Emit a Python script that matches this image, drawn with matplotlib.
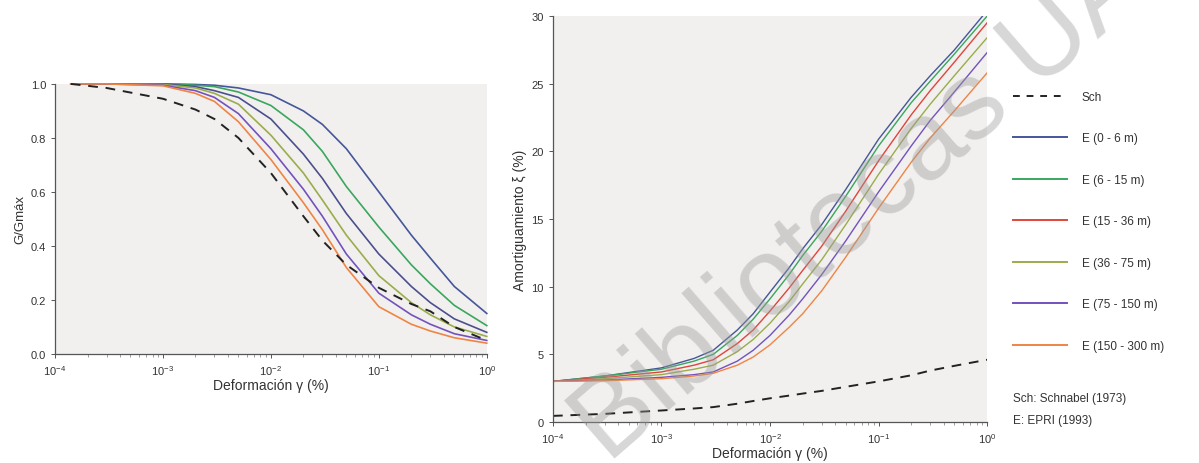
import matplotlib
matplotlib.use('Agg')
import matplotlib.pyplot as plt
from matplotlib.lines import Line2D

plt.rcParams['font.family'] = ['Liberation Sans', 'DejaVu Sans']
plt.rcParams['mathtext.fontset'] = 'custom'
plt.rcParams['mathtext.rm'] = 'Liberation Sans'

# deformación (%)
strain_g = [1.4e-4, 3e-4, 1e-3, 2e-3, 3e-3, 5e-3, 1e-2, 2e-2, 3e-2, 5e-2, 1e-1, 2e-1, 3e-1, 5e-1, 1.0]
strain_d = [1e-4, 3e-4, 1e-3, 2e-3, 3e-3, 5e-3, 7e-3, 1e-2, 1.5e-2, 2e-2, 3e-2, 5e-2, 1e-1, 2e-1, 3e-1, 5e-1, 1.0]

labels = ['E (0 - 6 m)', 'E (6 - 15 m)', 'E (15 - 36 m)', 'E (36 - 75 m)', 'E (75 - 150 m)', 'E (150 - 300 m)']

# G/Gmax
g_sch = [1.0, 0.985, 0.945, 0.905, 0.87, 0.80, 0.67, 0.51, 0.42, 0.33, 0.245, 0.185, 0.158, 0.10, 0.05]
g_e06 = [1.0, 1.0, 1.0, 0.998, 0.995, 0.985, 0.96, 0.90, 0.85, 0.76, 0.60, 0.44, 0.355, 0.25, 0.15]
g_e615 = [1.0, 1.0, 1.0, 0.995, 0.99, 0.97, 0.92, 0.83, 0.75, 0.62, 0.47, 0.33, 0.26, 0.18, 0.105]
g_e1536 = [1.0, 1.0, 1.0, 0.99, 0.975, 0.95, 0.87, 0.74, 0.65, 0.52, 0.37, 0.25, 0.19, 0.13, 0.08]
g_e3675 = [1.0, 1.0, 0.998, 0.985, 0.965, 0.925, 0.81, 0.67, 0.57, 0.44, 0.29, 0.19, 0.145, 0.10, 0.065]
g_e75150 = [1.0, 1.0, 0.995, 0.975, 0.95, 0.89, 0.76, 0.61, 0.51, 0.37, 0.225, 0.145, 0.11, 0.075, 0.05]
g_e150300 = [1.0, 1.0, 0.993, 0.965, 0.935, 0.86, 0.72, 0.56, 0.46, 0.32, 0.175, 0.11, 0.085, 0.06, 0.04]

# amortiguamiento (%)
d_sch = [0.45, 0.6, 0.85, 1.0, 1.1, 1.35, 1.55, 1.75, 1.95, 2.1, 2.3, 2.6, 3.0, 3.45, 3.8, 4.15, 4.6]
d_e06 = [3.0, 3.4, 4.0, 4.7, 5.3, 6.8, 8.0, 9.6, 11.4, 12.8, 14.6, 17.2, 20.9, 24.0, 25.6, 27.5, 30.4]
d_e615 = [3.0, 3.4, 3.9, 4.5, 5.0, 6.4, 7.6, 9.1, 10.9, 12.3, 14.1, 16.7, 20.4, 23.6, 25.2, 27.2, 30.0]
d_e1536 = [3.0, 3.3, 3.7, 4.2, 4.6, 5.8, 6.8, 8.2, 9.9, 11.2, 13.0, 15.6, 19.3, 22.7, 24.5, 26.6, 29.5]
d_e3675 = [3.0, 3.2, 3.5, 3.9, 4.2, 5.2, 6.1, 7.3, 8.9, 10.2, 12.0, 14.6, 18.3, 21.7, 23.5, 25.6, 28.4]
d_e75150 = [3.0, 3.1, 3.3, 3.5, 3.7, 4.5, 5.3, 6.4, 7.9, 9.1, 10.9, 13.4, 17.0, 20.4, 22.3, 24.4, 27.3]
d_e150300 = [3.0, 3.05, 3.2, 3.4, 3.6, 4.2, 4.8, 5.7, 7.0, 8.0, 9.7, 12.2, 15.8, 19.2, 21.0, 23.0, 25.8]

colors = ['#45569a', '#3aa65e', '#e0453c', '#9cab4c', '#7352bd', '#ef8445']
colors_g = ['#45569a', '#3aa65e', '#4c4f8e', '#9cab4c', '#7352bd', '#ef8445']

TXT = '#333333'
BG = '#f1f0ee'


def style_axis(ax):
    ax.set_facecolor(BG)
    ax.set_xscale('log')
    ax.set_xlim(1e-4, 1)
    for s in ('top', 'right'):
        ax.spines[s].set_visible(False)
    for s in ('left', 'bottom'):
        ax.spines[s].set_color('#555555')
        ax.spines[s].set_linewidth(0.9)
    ax.tick_params(which='major', length=3, width=0.7, colors='#555555', labelcolor=TXT, labelsize=8)
    ax.tick_params(which='minor', length=2, width=0.5, colors='#777777')
    ax.set_xlabel('Deformación γ (%)', fontsize=10, color=TXT, labelpad=1)


fig = plt.figure(figsize=(11.99, 4.64), dpi=100)

ax1 = fig.add_axes([0.0459, 0.235, 0.3601, 0.582])
style_axis(ax1)
ax1.set_ylim(0, 1.0)
ax1.set_yticks([0, 0.2, 0.4, 0.6, 0.8, 1.0])
ax1.set_yticklabels(['0.0', '0.2', '0.4', '0.6', '0.8', '1.0'])
ax1.set_ylabel('G/Gmáx', fontsize=9.5, color=TXT, labelpad=3)
g_series = [g_e06, g_e615, g_e1536, g_e3675, g_e75150, g_e150300]
for vals, c in zip(g_series, colors_g):
    ax1.plot(strain_g, vals, color=c, lw=1.2, clip_on=False)
ax1.plot(strain_g, g_sch, color='#222222', lw=1.4, ls=(0, (5, 4)), clip_on=False)

ax2 = fig.add_axes([0.4612, 0.0884, 0.3620, 0.8746])
style_axis(ax2)
ax2.set_ylim(0, 30)
ax2.set_yticks([0, 5, 10, 15, 20, 25, 30])
ax2.set_ylabel('Amortiguamiento ξ (%)', fontsize=10, color=TXT, labelpad=3)
d_series = [d_e06, d_e615, d_e1536, d_e3675, d_e75150, d_e150300]
handles = [Line2D([], [], color='#222222', lw=1.4, ls=(0, (3.5, 3.5)))]
for vals, c in zip(d_series, colors):
    ax2.plot(strain_d, vals, color=c, lw=1.0)
    handles.append(Line2D([], [], color=c, lw=1.4))
ax2.plot(strain_d, d_sch, color='#222222', lw=1.4, ls=(0, (5, 4)))

fig.legend(handles, ['Sch'] + labels, loc='upper left', bbox_to_anchor=(0.845, 0.802),
           frameon=False, fontsize=8.5, labelcolor=TXT, handlelength=4.6,
           handletextpad=1.2, labelspacing=2.5, borderpad=0, borderaxespad=0)

fig.text(0.845, 1 - 399 / 464, 'Sch: Schnabel (1973)', fontsize=8.5, color=TXT, va='center')
fig.text(0.845, 1 - 421 / 464, 'E: EPRI (1993)', fontsize=8.5, color=TXT, va='center')

# marca de agua
fig.text(0.719, 0.558, 'Bibliotecas UA', fontsize=80, color='#9a9a9a', alpha=0.4,
         rotation=41, ha='center', va='center', zorder=10)

fig.savefig('out.png', dpi=100)
